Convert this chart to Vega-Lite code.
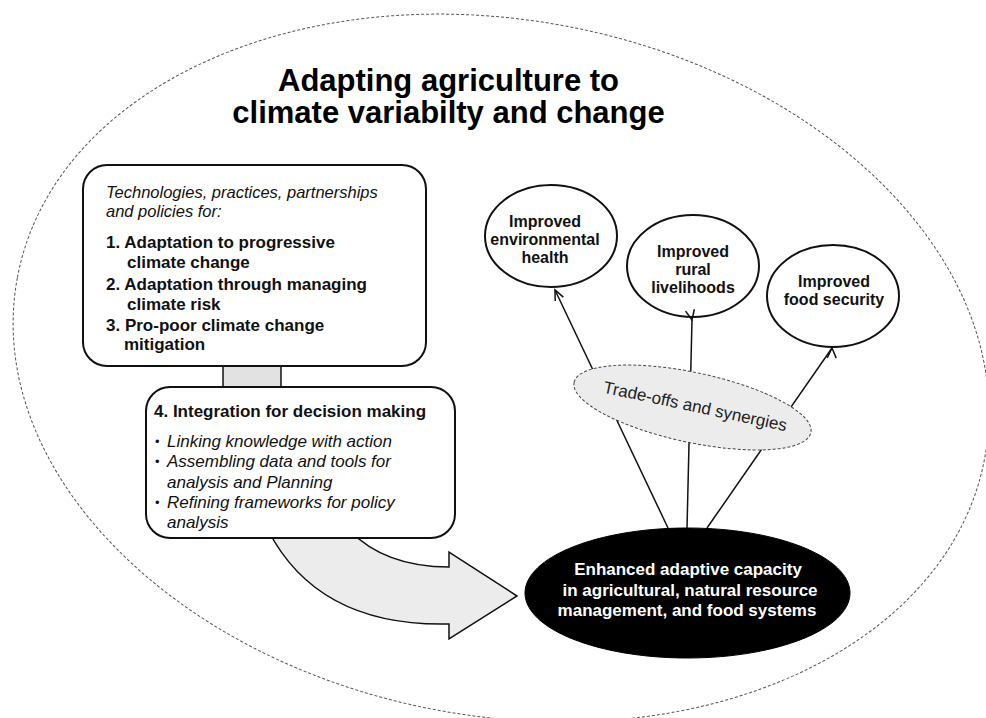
{
  "$schema": "https://vega.github.io/schema/vega-lite/v6.json",
  "width": 986,
  "height": 718,
  "padding": 0,
  "autosize": {"type": "none"},
  "background": "white",
  "config": {"view": {"stroke": null}, "font": "Liberation Sans"},
  "datasets": {
    "texts": [
      {"kind": "title", "x": 448.5, "y": 82, "label": "Adapting agriculture to"},
      {"kind": "title", "x": 448.5, "y": 114.2, "label": "climate variabilty and change"},
      {"kind": "ital1", "x": 106, "y": 193, "label": "Technologies, practices, partnerships"},
      {"kind": "ital1", "x": 106, "y": 211.5, "label": "and policies for:"},
      {"kind": "bold", "x": 106, "y": 243, "label": "1. Adaptation to progressive"},
      {"kind": "bold", "x": 127, "y": 263, "label": "climate change"},
      {"kind": "bold", "x": 106, "y": 285, "label": "2. Adaptation through managing"},
      {"kind": "bold", "x": 127, "y": 305, "label": "climate risk"},
      {"kind": "bold", "x": 106, "y": 325.5, "label": "3. Pro-poor climate change"},
      {"kind": "bold", "x": 124, "y": 345, "label": "mitigation"},
      {"kind": "bold", "x": 154, "y": 411.5, "label": "4. Integration for decision making"},
      {"kind": "bullet", "x": 155, "y": 441.5, "label": "•"},
      {"kind": "bullet", "x": 155, "y": 461.5, "label": "•"},
      {"kind": "bullet", "x": 155, "y": 503, "label": "•"},
      {"kind": "ital2", "x": 167, "y": 441.5, "label": "Linking knowledge with action"},
      {"kind": "ital2", "x": 167, "y": 461.5, "label": "Assembling data and tools for"},
      {"kind": "ital2", "x": 167, "y": 482.5, "label": "analysis and Planning"},
      {"kind": "ital2", "x": 167, "y": 503, "label": "Refining frameworks for policy"},
      {"kind": "ital2", "x": 167, "y": 523, "label": "analysis"},
      {"kind": "circle", "x": 545, "y": 222, "label": "Improved"},
      {"kind": "circle", "x": 545, "y": 240, "label": "environmental"},
      {"kind": "circle", "x": 545, "y": 258, "label": "health"},
      {"kind": "circle", "x": 693, "y": 252, "label": "Improved"},
      {"kind": "circle", "x": 693, "y": 270, "label": "rural"},
      {"kind": "circle", "x": 693, "y": 288, "label": "livelihoods"},
      {"kind": "circle", "x": 834, "y": 282, "label": "Improved"},
      {"kind": "circle", "x": 834, "y": 300, "label": "food security"},
      {"kind": "white", "x": 688, "y": 570, "label": "Enhanced adaptive capacity"},
      {"kind": "white", "x": 690, "y": 590.5, "label": "in agricultural, natural resource"},
      {"kind": "white", "x": 687, "y": 611, "label": "management, and food systems"},
      {"kind": "trade", "x": 695, "y": 407, "label": "Trade-offs and synergies"}
    ]
  },
  "encoding": {
    "x": {"field": "x", "type": "quantitative", "scale": {"domain": [0, 986], "nice": false, "zero": false}, "axis": null},
    "y": {"field": "y", "type": "quantitative", "scale": {"domain": [0, 718], "nice": false, "zero": false, "reverse": true}, "axis": null}
  },
  "layer": [
    {
      "data": {"values": [{"x": 501, "y": 368, "part": "outer frame"}]},
      "mark": {"type": "point", "shape": "M -1,0 C -1,-0.3906 -0.5523,-0.7073 0,-0.7073 C 0.5523,-0.7073 1,-0.3906 1,0 C 1,0.3906 0.5523,0.7073 0,0.7073 C -0.5523,0.7073 -1,0.3906 -1,0 Z", "size": 968256, "angle": 10.6, "filled": false, "stroke": "#555555", "strokeWidth": 1, "strokeDash": [3, 2], "opacity": 1}
    },
    {
      "data": {"values": [{"x": 223, "x2": 281, "y": 355, "y2": 392, "part": "connector"}]},
      "mark": {"type": "rect", "fill": "#e2e2e2", "stroke": "#111111", "strokeWidth": 1.5},
      "encoding": {"x2": {"field": "x2"}, "y2": {"field": "y2"}}
    },
    {
      "data": {"values": [{"x": 392.5, "y": 584.5, "part": "curved arrow"}]},
      "mark": {"type": "point", "shape": "M -1,-0.4378 L -0.3494,-0.4378 Q -0.0602,-0.1406 0.4538,-0.1406 L 0.4538,-0.261 L 1,0.0924 L 0.4538,0.4378 L 0.4538,0.3173 Q -0.5984,0.3414 -1,-0.4378 Z", "size": 62001, "filled": true, "fill": "#ececec", "stroke": "#111111", "strokeWidth": 1.5, "opacity": 1}
    },
    {
      "data": {"values": [
        {"x": 83, "x2": 426, "y": 165, "y2": 366, "part": "box 1"},
        {"x": 146, "x2": 455, "y": 387, "y2": 538, "part": "box 2"}
      ]},
      "mark": {"type": "rect", "fill": "white", "stroke": "#111111", "strokeWidth": 2, "cornerRadius": 24},
      "encoding": {"x2": {"field": "x2"}, "y2": {"field": "y2"}}
    },
    {
      "data": {"values": [
        {"x": 668, "y": 528, "x2": 555, "y2": 290, "target": "environmental health"},
        {"x": 687, "y": 528, "x2": 692, "y2": 320, "target": "rural livelihoods"},
        {"x": 707, "y": 528, "x2": 832, "y2": 348, "target": "food security"}
      ]},
      "mark": {"type": "rule", "stroke": "#111111", "strokeWidth": 1.5},
      "encoding": {"x2": {"field": "x2"}, "y2": {"field": "y2"}}
    },
    {
      "data": {"values": [{"x": 692.5, "y": 407.5, "part": "trade-offs"}]},
      "mark": {"type": "point", "shape": "M -1,0 C -1,-0.1596 -0.5523,-0.289 0,-0.289 C 0.5523,-0.289 1,-0.1596 1,0 C 1,0.1596 0.5523,0.289 0,0.289 C -0.5523,0.289 -1,0.1596 -1,0 Z", "size": 58564, "angle": 12, "filled": true, "fill": "#ececec", "stroke": "#444444", "strokeWidth": 1, "strokeDash": [3, 2], "opacity": 1}
    },
    {
      "data": {"values": [
        {"x": 551, "y": 236, "part": "environmental health"},
        {"x": 693, "y": 266, "part": "rural livelihoods"},
        {"x": 833, "y": 296, "part": "food security"}
      ]},
      "mark": {"type": "point", "shape": "M -1,0 C -1,-0.4269 -0.5523,-0.773 0,-0.773 C 0.5523,-0.773 1,-0.4269 1,0 C 1,0.4269 0.5523,0.773 0,0.773 C -0.5523,0.773 -1,0.4269 -1,0 Z", "size": 17424, "filled": true, "fill": "white", "stroke": "#111111", "strokeWidth": 2, "opacity": 1}
    },
    {
      "data": {"values": [
        {"x": 555, "y": 290, "target": "environmental health"},
        {"x": 692, "y": 320, "target": "rural livelihoods"},
        {"x": 832, "y": 348, "target": "food security"}
      ]},
      "mark": {"type": "point", "shape": "M -0.45,1 L 0,0 L 0.45,1", "size": 400, "filled": false, "stroke": "#111111", "strokeWidth": 1.5, "opacity": 1},
      "encoding": {
        "angle": {"field": "target", "type": "nominal", "scale": {"domain": ["environmental health", "rural livelihoods", "food security"], "range": [334.6, 1.4, 34.8]}, "legend": null}
      }
    },
    {
      "data": {"values": [{"x": 687.5, "y": 593, "part": "adaptive capacity"}]},
      "mark": {"type": "point", "shape": "M -1,0 C -1,-0.2209 -0.5523,-0.4 0,-0.4 C 0.5523,-0.4 1,-0.2209 1,0 C 1,0.2209 0.5523,0.4 0,0.4 C -0.5523,0.4 -1,0.2209 -1,0 Z", "size": 105625, "filled": true, "fill": "black", "stroke": "black", "strokeWidth": 1, "opacity": 1}
    },
    {
      "data": {"name": "texts"},
      "transform": [{"filter": "datum.kind === 'title'"}],
      "mark": {"type": "text", "align": "center", "baseline": "middle", "font": "Liberation Sans", "fontSize": 31, "fontWeight": "bold", "color": "#000000"},
      "encoding": {"text": {"field": "label"}}
    },
    {
      "data": {"name": "texts"},
      "transform": [{"filter": "datum.kind === 'ital1'"}],
      "mark": {"type": "text", "align": "left", "baseline": "middle", "font": "Liberation Sans", "fontSize": 16.5, "fontStyle": "italic", "color": "#111111"},
      "encoding": {"text": {"field": "label"}}
    },
    {
      "data": {"name": "texts"},
      "transform": [{"filter": "datum.kind === 'ital2'"}],
      "mark": {"type": "text", "align": "left", "baseline": "middle", "font": "Liberation Sans", "fontSize": 17, "fontStyle": "italic", "color": "#111111"},
      "encoding": {"text": {"field": "label"}}
    },
    {
      "data": {"name": "texts"},
      "transform": [{"filter": "datum.kind === 'bullet'"}],
      "mark": {"type": "text", "align": "left", "baseline": "middle", "font": "Liberation Sans", "fontSize": 13, "color": "#111111"},
      "encoding": {"text": {"field": "label"}}
    },
    {
      "data": {"name": "texts"},
      "transform": [{"filter": "datum.kind === 'bold'"}],
      "mark": {"type": "text", "align": "left", "baseline": "middle", "font": "Liberation Sans", "fontSize": 17, "fontWeight": "bold", "color": "#111111"},
      "encoding": {"text": {"field": "label"}}
    },
    {
      "data": {"name": "texts"},
      "transform": [{"filter": "datum.kind === 'circle'"}],
      "mark": {"type": "text", "align": "center", "baseline": "middle", "font": "Liberation Sans", "fontSize": 16, "fontWeight": "bold", "color": "#111111"},
      "encoding": {"text": {"field": "label"}}
    },
    {
      "data": {"name": "texts"},
      "transform": [{"filter": "datum.kind === 'white'"}],
      "mark": {"type": "text", "align": "center", "baseline": "middle", "font": "Liberation Sans", "fontSize": 17, "fontWeight": "bold", "color": "#ffffff"},
      "encoding": {"text": {"field": "label"}}
    },
    {
      "data": {"name": "texts"},
      "transform": [{"filter": "datum.kind === 'trade'"}],
      "mark": {"type": "text", "align": "center", "baseline": "middle", "font": "Liberation Sans", "fontSize": 17, "angle": 12, "color": "#222222"},
      "encoding": {"text": {"field": "label"}}
    }
  ]
}
